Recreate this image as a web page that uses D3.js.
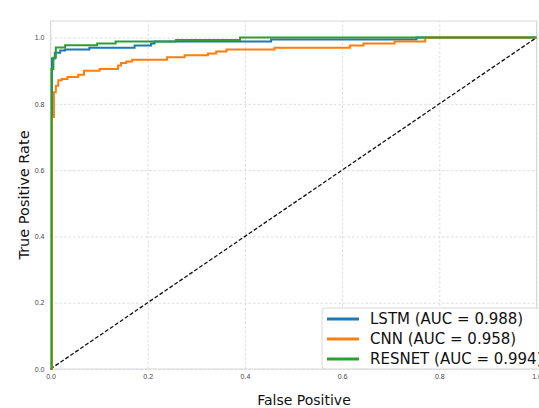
<!DOCTYPE html>
<html>
<head>
<meta charset="utf-8">
<script src="https://cdn.jsdelivr.net/npm/d3@7"></script>
<style>
  body { margin: 0; background: #fff; }
  svg { font-family: "DejaVu Sans", sans-serif; display: block; }
  .grid line { stroke: #d4d4d4; stroke-dasharray: 2.5,2; stroke-width: 0.8; }
  .grid .domain { display: none; }
  .axis text { fill: #444; font-size: 7px; }
  .axis .domain, .axis line { display: none; }
</style>
</head>
<body>
<svg id="chart"></svg>
<script>
// ROC corner points: the curve runs right, then steps up to the next tpr
const lstmFpr = [0, 0.003, 0.009, 0.020, 0.030, 0.080, 0.173, 0.207, 0.214, 0.454, 0.753, 1.0];
const lstmTpr = [0, 0.937, 0.954, 0.961, 0.964, 0.969, 0.976, 0.982, 0.988, 0.994, 1.0, 1.0];

const cnnFpr = [0, 0.003, 0.007, 0.011, 0.016, 0.023, 0.035, 0.057, 0.069, 0.101, 0.139, 0.145,
  0.156, 0.168, 0.240, 0.276, 0.324, 0.341, 0.362, 0.461, 0.616, 0.644, 0.708, 0.771, 1.0];
const cnnTpr = [0, 0.760, 0.835, 0.855, 0.871, 0.875, 0.881, 0.888, 0.900, 0.905, 0.916, 0.923,
  0.928, 0.933, 0.941, 0.947, 0.952, 0.958, 0.964, 0.969, 0.976, 0.982, 0.988, 1.0, 1.0];

const resnetFpr = [0, 0.002, 0.006, 0.011, 0.030, 0.096, 0.134, 0.258, 0.390, 1.0];
const resnetTpr = [0, 0.905, 0.939, 0.970, 0.977, 0.982, 0.988, 0.993, 1.0, 1.0];

const seriesNames = ['LSTM (AUC = 0.988)', 'CNN (AUC = 0.958)', 'RESNET (AUC = 0.994)'];
const seriesColors = ['#1f77b4', '#ff7f0e', '#2ca02c'];
const tickValues = [0, 0.2, 0.4, 0.6, 0.8, 1.0];

const width = 539, height = 408;
const margin = { top: 21, right: 2.5, bottom: 39, left: 50.5 };
const innerW = width - margin.left - margin.right;
const innerH = height - margin.top - margin.bottom;

const svg = d3.select('#chart').attr('width', width).attr('height', height);
const chart = svg.append('g').attr('transform', `translate(${margin.left},${margin.top})`);

const xScale = d3.scaleLinear().domain([0, 1]).range([0, innerW]);
const yScale = d3.scaleLinear().domain([0, 1.05]).range([innerH, 0]);

// grid
chart.append('g').attr('class', 'grid')
  .attr('transform', `translate(0,${innerH})`)
  .call(d3.axisBottom(xScale).tickValues(tickValues).tickSize(-innerH).tickFormat(''));
chart.append('g').attr('class', 'grid')
  .call(d3.axisLeft(yScale).tickValues(tickValues).tickSize(-innerW).tickFormat(''));

// frame
chart.append('rect')
  .attr('width', innerW).attr('height', innerH)
  .attr('fill', 'none').attr('stroke', '#d8d8d8').attr('stroke-width', 1);

// tick labels
chart.append('g').attr('class', 'axis')
  .attr('transform', `translate(0,${innerH})`)
  .call(d3.axisBottom(xScale).tickValues(tickValues).tickSize(0).tickPadding(5).tickFormat(d3.format('.1f')));
chart.append('g').attr('class', 'axis')
  .call(d3.axisLeft(yScale).tickValues(tickValues).tickSize(0).tickPadding(6).tickFormat(d3.format('.1f')));

// chance line
chart.append('path')
  .datum([[0, 0], [1, 1]])
  .attr('fill', 'none')
  .attr('stroke', '#111')
  .attr('stroke-width', 1.3)
  .attr('stroke-dasharray', '4,2')
  .attr('d', d3.line().x(d => xScale(d[0])).y(d => yScale(d[1])));

const rocLine = d3.line()
  .curve(d3.curveStepAfter)
  .x(d => xScale(d[0]))
  .y(d => yScale(d[1]));

const series = [
  d3.zip(lstmFpr, lstmTpr),
  d3.zip(cnnFpr, cnnTpr),
  d3.zip(resnetFpr, resnetTpr)
];

series.forEach((pts, i) => {
  chart.append('path')
    .datum(pts)
    .attr('fill', 'none')
    .attr('stroke', seriesColors[i])
    .attr('stroke-width', 2)
    .attr('d', rocLine);
});

// axis titles
svg.append('text')
  .attr('x', 304)
  .attr('y', 405)
  .attr('text-anchor', 'middle')
  .style('font-size', '14px')
  .attr('fill', '#111')
  .text('False Positive');

svg.append('text')
  .attr('transform', `translate(29,${margin.top + innerH / 2}) rotate(-90)`)
  .attr('text-anchor', 'middle')
  .style('font-size', '14.5px')
  .attr('fill', '#111')
  .text('True Positive Rate');

// legend
const legend = svg.append('g').attr('transform', 'translate(322,308)');
legend.append('rect')
  .attr('width', 240).attr('height', 61)
  .attr('rx', 3)
  .attr('fill', 'rgba(255,255,255,0.85)')
  .attr('stroke', '#d8d8d8');

seriesNames.forEach((name, i) => {
  const y = 11 + i * 20;
  legend.append('line')
    .attr('x1', 5).attr('x2', 37)
    .attr('y1', y).attr('y2', y)
    .attr('stroke', seriesColors[i])
    .attr('stroke-width', 3);
  legend.append('text')
    .attr('x', 48).attr('y', y)
    .attr('dy', '0.36em')
    .style('font-size', '15px')
    .attr('fill', '#111')
    .text(name);
});
</script>
</body>
</html>
